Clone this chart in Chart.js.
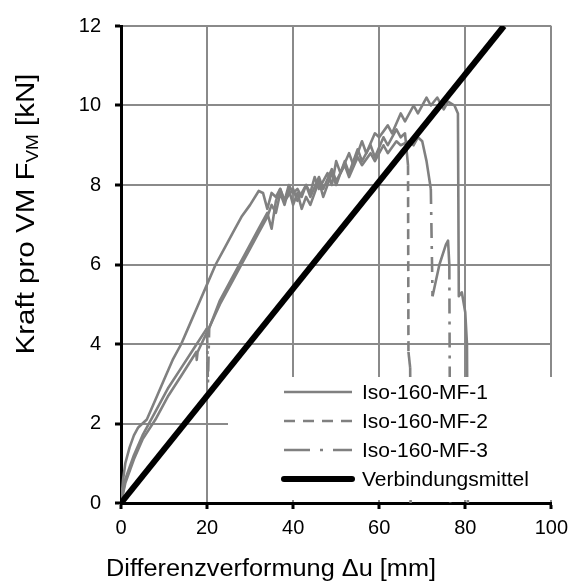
<!DOCTYPE html>
<html>
<head>
<meta charset="utf-8">
<script src="https://cdn.jsdelivr.net/npm/chart.js@4/dist/chart.umd.min.js"></script>
<style>
  body { margin: 0; background: #fff; }
  #wrap { width: 575px; height: 586px; position: relative; }
</style>
</head>
<body>
<div id="wrap"><canvas id="chart"></canvas></div>
<script>
// Achsen
const xTicks = [0, 20, 40, 60, 80, 100];
const yTicks = [0, 2, 4, 6, 8, 10, 12];

const seriesNames = ['Iso-160-MF-1', 'Iso-160-MF-2', 'Iso-160-MF-3', 'Verbindungsmittel'];

// Iso-160-MF-1
const mf1X = [0, 0.5, 1, 2, 3, 4, 6, 8, 10, 12, 14, 16, 18, 20, 22, 24, 26, 28, 30, 32, 33, 34, 35, 36, 37, 38, 39, 40, 41, 42, 43, 44, 45, 46, 48, 49, 50, 51, 53, 54, 56, 57, 59, 60, 62, 63, 65, 66, 68, 69, 71, 72, 73.5, 75, 76, 77.5, 78.3, 78.5, 79.2, 80, 80.4, 80.6];
const mf1Y = [0, 0.6, 1.0, 1.4, 1.7, 1.9, 2.1, 2.6, 3.1, 3.6, 4.0, 4.5, 5.0, 5.5, 6.0, 6.4, 6.8, 7.2, 7.5, 7.85, 7.8, 7.4, 7.8, 7.7, 7.9, 7.6, 8.0, 7.8, 7.9, 7.7, 8.0, 7.8, 8.2, 7.9, 8.3, 8.0, 8.6, 8.3, 8.8, 8.5, 9.1, 8.8, 9.3, 9.2, 9.5, 9.3, 9.8, 9.6, 10.0, 9.8, 10.2, 10.0, 10.2, 9.9, 10.1, 10.0, 9.8, 5.2, 5.3, 4.8, 4.0, 0];

// Iso-160-MF-2
const mf2X = [0, 1, 3, 5, 8, 11, 14, 17.5, 17.6, 17.8, 20, 23, 26, 28, 30, 32, 34, 35, 36, 37, 38, 39, 40, 41, 42, 43, 44, 46, 47, 49, 50, 52, 53, 55, 56, 58, 59, 61, 62, 64, 65, 66, 66.7, 66.8, 67.2, 67.3];
const mf2Y = [0, 0.5, 1.1, 1.6, 2.1, 2.7, 3.2, 3.8, 3.6, 3.8, 4.3, 5.0, 5.6, 6.0, 6.4, 6.8, 7.2, 7.5, 7.3, 7.8, 7.5, 7.9, 7.5, 7.8, 7.4, 7.7, 7.5, 8.1, 7.7, 8.3, 8.0, 8.6, 8.3, 8.9, 8.6, 9.0, 8.7, 9.2, 9.0, 9.4, 9.2, 9.3, 8.5, 3.8, 3.4, 0];

// Iso-160-MF-3
const mf3X = [0, 1, 3, 5, 8, 11, 14, 17, 20, 20.2, 20.5, 23, 26, 29, 32, 34, 35, 36, 37, 38, 40, 41, 43, 44, 46, 47, 49, 50, 52, 53, 55, 56, 58, 59, 61, 62, 64, 65, 67, 68, 69, 70, 71, 72, 72.4, 74, 75.5, 76, 76.3, 76.5];
const mf3Y = [0, 0.6, 1.2, 1.7, 2.3, 2.9, 3.4, 3.9, 4.4, 3.0, 4.4, 5.1, 5.7, 6.3, 6.9, 7.3, 6.9, 7.6, 7.9, 7.6, 7.9, 7.6, 8.0, 7.7, 8.2, 7.9, 8.4, 8.1, 8.5, 8.2, 8.7, 8.5, 8.8, 8.6, 9.0, 8.8, 9.1, 9.0, 9.1, 9.0, 9.2, 9.1, 8.6, 7.9, 5.2, 6.0, 6.5, 6.6, 6.0, 0];

// Verbindungsmittel
const vmX = [0, 89];
const vmY = [0, 12];

const toPoints = (xs, ys) => xs.map((x, i) => ({ x: x, y: ys[i] }));

// steile Abschnitte gestrichelt, der Rest durchgezogen
const steepOnly = c => Math.abs(c.p1.parsed.y - c.p0.parsed.y) > 1 ? undefined : [];

const grey = '#808080';
const fontFamily = '"Liberation Sans", Arial, sans-serif';

const legendBox = {
  id: 'legendBox',
  afterDatasetsDraw(chart) {
    const ctx = chart.ctx;
    const area = chart.chartArea;
    ctx.save();
    ctx.fillStyle = '#fff';
    ctx.fillRect(area.left + 107, area.bottom - 126, area.right - area.left - 105, 123);
    ctx.font = '21px ' + fontFamily;
    ctx.textBaseline = 'middle';
    chart.data.datasets.forEach((ds, i) => {
      const y = area.bottom - 111 + i * 29;
      ctx.strokeStyle = ds.borderColor;
      ctx.lineWidth = ds.borderWidth;
      ctx.lineCap = ds.borderWidth > 4 ? 'round' : 'butt';
      ctx.setLineDash(ds.legendDash || []);
      ctx.beginPath();
      ctx.moveTo(area.left + 163, y);
      ctx.lineTo(area.left + 231, y);
      ctx.stroke();
      ctx.setLineDash([]);
      ctx.fillStyle = '#000';
      ctx.fillText(ds.label, area.left + 241, y + 1);
    });
    ctx.restore();
  }
};

const axisTitles = {
  id: 'axisTitles',
  afterDraw(chart) {
    const ctx = chart.ctx;
    ctx.save();
    ctx.fillStyle = '#000';
    ctx.textBaseline = 'alphabetic';
    // x-Achse
    ctx.font = '23px ' + fontFamily;
    ctx.textAlign = 'center';
    ctx.save();
    ctx.translate(271, 576);
    ctx.scale(1.1, 1);
    ctx.fillText('Differenzverformung \u0394u [mm]', 0, 0);
    ctx.restore();
    // y-Achse mit Index
    const parts = [
      { t: 'Kraft pro VM F', size: 25, dy: 0 },
      { t: 'VM', size: 16, dy: 4 },
      { t: ' [kN]', size: 25, dy: 0 }
    ];
    let total = 0;
    parts.forEach(p => {
      ctx.font = p.size + 'px ' + fontFamily;
      p.w = ctx.measureText(p.t).width;
      total += p.w;
    });
    ctx.translate(34, 214);
    ctx.rotate(-Math.PI / 2);
    ctx.scale(1.18, 1);
    ctx.textAlign = 'left';
    let x = -total / 2;
    parts.forEach(p => {
      ctx.font = p.size + 'px ' + fontFamily;
      ctx.fillText(p.t, x, p.dy);
      x += p.w;
    });
    ctx.restore();
  }
};

Chart.defaults.font.family = fontFamily;
Chart.defaults.color = '#000';

const ctx = document.getElementById('chart').getContext('2d');
const myChart = new Chart(ctx, {
  type: 'line',
  data: {
    datasets: [
      {
        label: seriesNames[0],
        data: toPoints(mf1X, mf1Y),
        borderColor: grey, borderWidth: 2.6, order: 1
      },
      {
        label: seriesNames[1],
        data: toPoints(mf2X, mf2Y),
        borderColor: grey, borderWidth: 2.6, order: 1,
        borderDash: [10, 6], legendDash: [11, 8],
        segment: { borderDash: steepOnly }
      },
      {
        label: seriesNames[2],
        data: toPoints(mf3X, mf3Y),
        borderColor: grey, borderWidth: 2.6, order: 1,
        borderDash: [15, 8, 3, 8], legendDash: [26, 10, 3, 10],
        segment: { borderDash: steepOnly }
      },
      {
        label: seriesNames[3],
        data: toPoints(vmX, vmY),
        borderColor: '#000', borderWidth: 6, order: 0
      }
    ]
  },
  options: {
    responsive: true,
    maintainAspectRatio: false,
    animation: false,
    elements: { point: { radius: 0 }, line: { tension: 0, borderJoinStyle: 'round' } },
    layout: { padding: { left: 0, top: 22, right: 21, bottom: 0 } },
    plugins: {
      legend: { display: false },
      tooltip: { enabled: false }
    },
    scales: {
      x: {
        type: 'linear',
        min: 0, max: 100,
        afterBuildTicks: s => { s.ticks = xTicks.map(v => ({ value: v })); },
        afterFit: s => { s.height = 83; },
        grid: { color: '#8a8a8a', lineWidth: 2, tickColor: '#000', tickLength: 6, tickWidth: 3 },
        border: { color: '#000', width: 3 },
        ticks: { font: { size: 20 }, padding: 7, maxRotation: 0 }
      },
      y: {
        type: 'linear',
        min: 0, max: 12,
        afterBuildTicks: s => { s.ticks = yTicks.map(v => ({ value: v })); },
        afterFit: s => { s.width = 121; },
        grid: { color: '#8a8a8a', lineWidth: 2, tickColor: '#000', tickLength: 6, tickWidth: 3 },
        border: { color: '#000', width: 3 },
        ticks: { font: { size: 20 }, padding: 14 }
      }
    }
  },
  plugins: [legendBox, axisTitles]
});
</script>
</body>
</html>
